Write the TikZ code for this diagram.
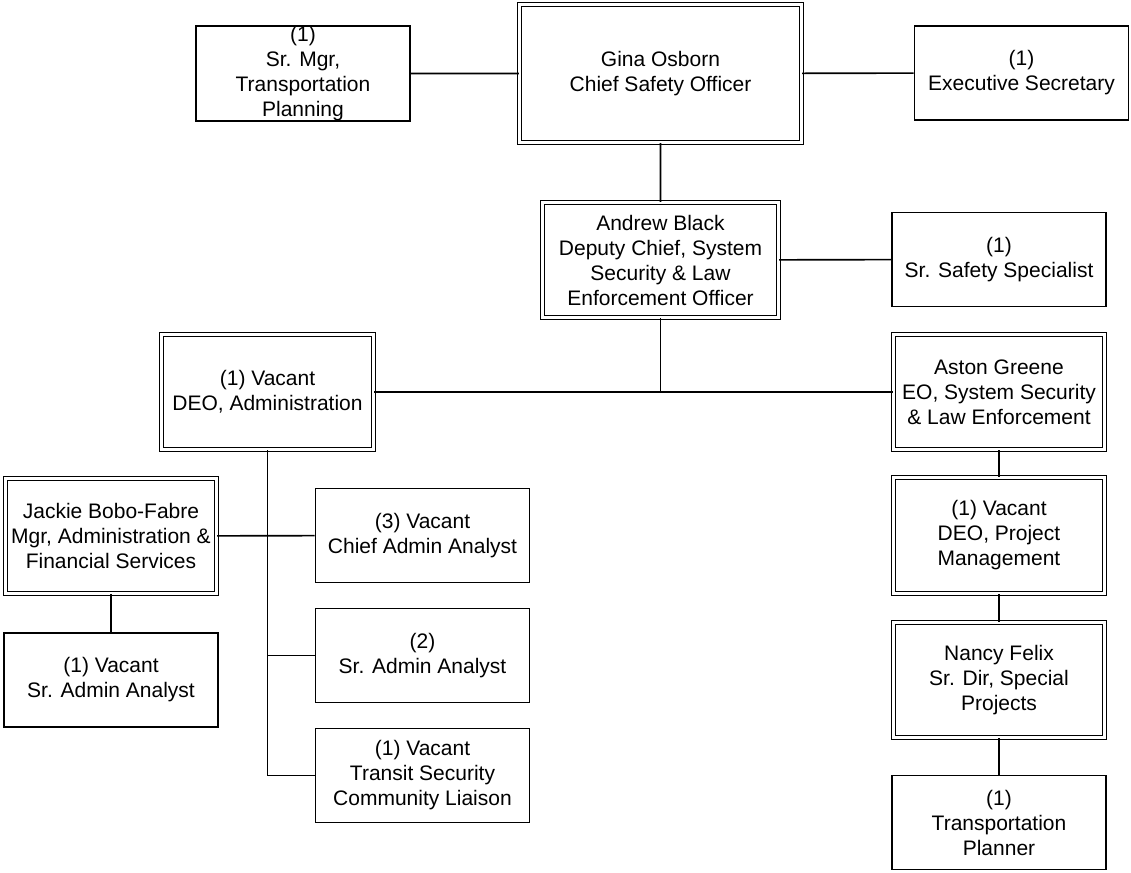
\documentclass[tikz,border=0pt]{standalone}
\usepackage{fontspec}
\setmainfont{Liberation Sans}

\begin{document}
\begin{tikzpicture}[x=1pt,y=-1pt,line width=1.6pt,
  post/.style={rectangle,draw,line width=1.6pt,inner sep=0pt,align=center,
    minimum width=214pt,minimum height=94pt,font=\fontsize{21}{25}\selectfont},
  lead/.style={post,double,line width=1.2pt,double distance=2.8pt,
    minimum width=211pt,minimum height=115pt}]

\useasboundingbox (0,0) rectangle (1131,872);

% top row
\node[lead,minimum width=282pt,minimum height=138pt] (gina) at (660.5,73.5) {Gina Osborn\\Chief Safety Officer};
\node[post] (trplan) at (303,73.5) {(1)\\Sr. Mgr,\\Transportation\\Planning};
\node[post] (execsec) at (1021.5,73) {(1)\\Executive Secretary};

% deputy chief
\node[lead,minimum width=236pt] (andrew) at (660.5,260) {Andrew Black\\Deputy Chief, System\\Security \& Law\\Enforcement Officer};
\node[post] (safety) at (999,259.5) {(1)\\Sr. Safety Specialist};

% administration branch
\node[lead,minimum width=212pt] (deoadm) at (267.5,392) {(1) Vacant\\DEO, Administration};
\node[lead] (jackie) at (111,536) {Jackie Bobo-Fabre\\Mgr, Administration \&\\Financial Services};
\node[post] (vacsr) at (111,680) {(1) Vacant\\Sr. Admin Analyst};
\node[post] (chief) at (422.5,535.5) {(3) Vacant\\Chief Admin Analyst};
\node[post] (sradm) at (422.5,655.5) {(2)\\Sr. Admin Analyst};
\node[post] (transit) at (422.5,775.5) {(1) Vacant\\Transit Security\\Community Liaison};

% security branch
\node[lead] (aston) at (999,392) {Aston Greene\\EO, System Security\\\& Law Enforcement};
\node[lead,minimum height=116pt] (deopm) at (999,535.5) {(1) Vacant\\DEO, Project\\Management};
\node[lead] (nancy) at (999,680) {Nancy Felix\\Sr. Dir, Special\\Projects};
\node[post] (tplan) at (999,822.5) {(1)\\Transportation\\Planner};

% connectors
\draw (trplan) -- (gina) -- (execsec);
\draw (gina) -- (andrew) -- (safety);
\draw (deoadm) -- (aston);
\draw (andrew) -- (andrew |- aston.west);
\draw (jackie) -- (chief);
\draw (jackie) -- (vacsr);
\draw (deoadm) |- (transit);
\draw (deoadm.south |- sradm.west) -- (sradm);
\draw (aston) -- (deopm) -- (nancy) -- (tplan);
\end{tikzpicture}
\end{document}
